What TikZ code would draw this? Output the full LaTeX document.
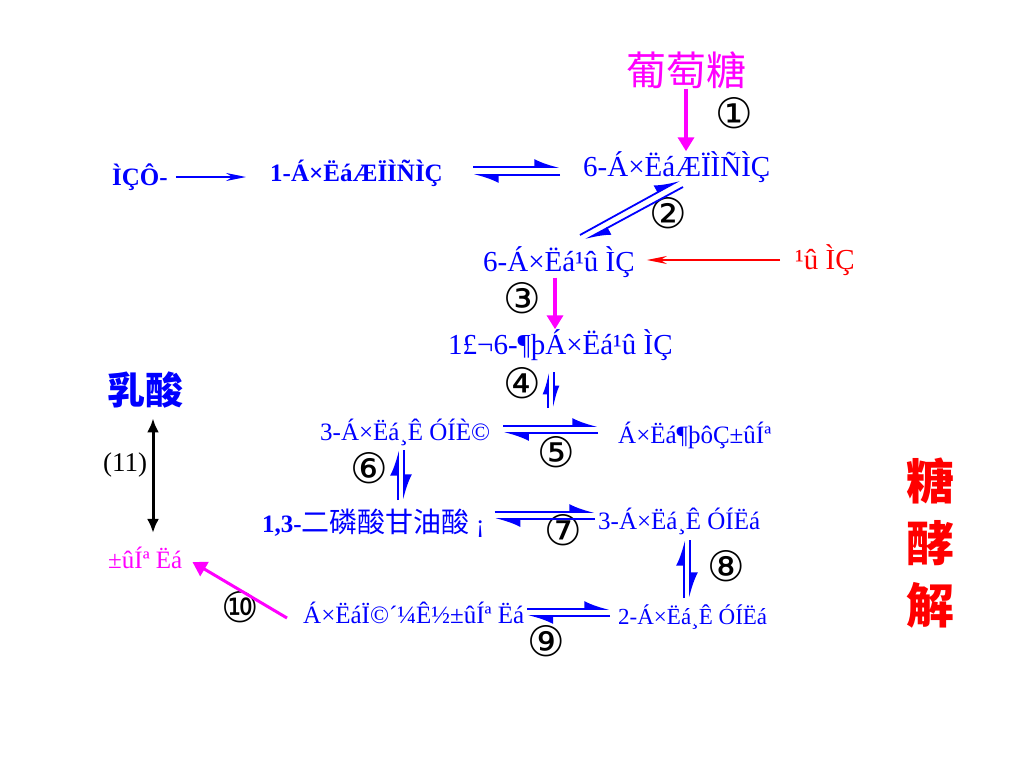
\documentclass[tikz,border=0pt]{standalone}
\usepackage{fontspec}
\setmainfont{Liberation Serif}
\newfontfamily\cjk{Noto Sans CJK SC}
\newfontfamily\circfont{DejaVu Sans}
\usetikzlibrary{arrows.meta}
\definecolor{pblue}{RGB}{0,0,255}
\definecolor{pmag}{RGB}{255,0,255}
\definecolor{pred}{RGB}{255,0,0}
\tikzset{%
  >={Latex[width=2mm,length=2mm]},
  % Specifications for style of nodes:
            base/.style = {inner sep=0pt, anchor=west,
                           font=\fontsize{25}{30}\selectfont},
  comp/.style = {base, text=pblue},
  compl/.style = {comp, font=\fontsize{29}{32}\selectfont},
  compb/.style = {comp, font=\fontsize{25}{30}\selectfont\bfseries},
  sugar/.style = {base, anchor=center, font=\cjk\fontsize{40}{44}\selectfont},
  num/.style = {inner sep=0pt, font=\circfont\fontsize{42}{44}\selectfont},
  % Specifications for style of arrows:
  eqr/.style = {draw=pblue, line width=1.8pt,
                -{Latex[harpoon,width=16pt,length=22pt]}},
  eqs/.style = {eqr, -{Latex[harpoon,width=11pt,length=18pt]}},
  thin/.style = {line width=1.4pt, -{Stealth[width=8pt,length=20pt]}},
  fat/.style = {draw=pmag, line width=4pt, -{Triangle[width=16pt,length=14pt]}},
}

\begin{document}
\begin{tikzpicture}[x=1pt, y=-1pt]
  \useasboundingbox (0,0) rectangle (1024,768);

  % Specification of nodes (position, etc.)
  \node (onGlycogen) [compb] at (112,177) {ÌÇÔ-};
  \node (onG1p)      [compb] at (270,173) {1-Á×ËáÆÏÌÑÌÇ};
  \node (onG6p)      [compl] at (583,167) {6-Á×ËáÆÏÌÑÌÇ};
  \node (onGlucose)  [sugar, text=pmag] at (686,70) {葡萄糖};
  \node (onF6p)      [compl] at (483,262) {6-Á×Ëá¹û ÌÇ};
  \node (onFructose) [base, text=pred, font=\fontsize{29}{32}\selectfont] at (795,260) {¹û ÌÇ};
  \node (onFbp)      [compl] at (448,345) {1£¬6-¶þÁ×Ëá¹û ÌÇ};
  \node (onGap)      [comp]  at (320,432) {3-Á×Ëá¸Ê ÓÍÈ©};
  \node (onDhap)     [comp]  at (618,435) {Á×Ëá¶þôÇ±ûÍª};
  \node (onBpg)      [compb] at (262,523) {1,3-{\cjk\mdseries\fontsize{28}{30}\selectfont 二磷酸甘油酸} {\mdseries ¡}};
  \node (onPg3)      [comp]  at (598,521) {3-Á×Ëá¸Ê ÓÍËá};
  \node (onPg2)      [comp, font=\fontsize{23}{28}\selectfont] at (618,617) {2-Á×Ëá¸Ê ÓÍËá};
  \node (onPep)      [comp]  at (303,613) {Á×ËáÏ©´¼Ê½±ûÍª Ëá};
  \node (onPyruvate) [base, text=pmag] at (108,558) {±ûÍª Ëá};
  \node (onLactate)  [sugar, text=pblue, font=\cjk\bfseries\fontsize{38}{40}\selectfont] at (145,390) {乳酸};
  \node (onGlycolysis) [sugar, text=pred, align=center,
        font=\cjk\bfseries\fontsize{48}{62}\selectfont] at (930,543) {糖\\酵\\解};

  % step numbers
  \node (n1)  [num] at (734,113) {①};
  \node (n2)  [num] at (668,213) {②};
  \node (n3)  [num] at (522,298) {③};
  \node (n4)  [num] at (522,383) {④};
  \node (n5)  [num] at (556,452) {⑤};
  \node (n6)  [num] at (369,468) {⑥};
  \node (n7)  [num] at (563,530) {⑦};
  \node (n8)  [num] at (726,566) {⑧};
  \node (n9)  [num] at (546,641) {⑨};
  \node (n10) [num] at (240,607) {⑩};
  \node (n11) [inner sep=0pt, font=\fontsize{27}{30}\selectfont] at (125,465) {(11)};

  % free ends of the reversible steps
  \coordinate (r2a) at (580,235);  \coordinate (r2b) at (680,180);
  \coordinate (r2c) at (683,187);  \coordinate (r2d) at (585,240);
  \coordinate (r4a) at (548,408);  \coordinate (r4b) at (548,372);
  \coordinate (r4c) at (554,372);  \coordinate (r4d) at (554,408);
  \coordinate (r6a) at (398,500);  \coordinate (r6b) at (398,450);
  \coordinate (r6c) at (404,450);  \coordinate (r6d) at (404,500);
  \coordinate (r8a) at (684,598);  \coordinate (r8b) at (684,540);
  \coordinate (r8c) at (690,540);  \coordinate (r8d) at (690,598);

  % Specification of lines between nodes specified above
  \draw[thin, pblue, shorten <=8pt, shorten >=24pt] (onGlycogen.east) -- (onGlycogen.east -| onG1p.west);
  \draw[eqr, shorten <=30pt, shorten >=23pt] ([yshift=6pt]onG1p.east) -- ([yshift=6pt]onG1p.east -| onG6p.west);
  \draw[eqr, shorten <=23pt, shorten >=30pt] ([yshift=-2pt]onG1p.east -| onG6p.west) -- ([yshift=-2pt]onG1p.east);
  \draw[fat] (onGlucose.south) -- (onGlucose.south |- onG6p.north);
  \draw[eqr] (r2a) -- (r2b);
  \draw[eqr] (r2c) -- (r2d);
  \draw[thin, pred, shorten <=15pt, shorten >=12pt] (onFructose.west) -- (onFructose.west -| onF6p.east);
  \draw[fat] (onF6p.south -| 555,0) -- (onFbp.north -| 555,0);
  \draw[eqs] (r4a) -- (r4b);
  \draw[eqs] (r4c) -- (r4d);
  \draw[eqr, shorten <=13pt, shorten >=20pt] ([yshift=6pt]onGap.east) -- ([yshift=6pt]onGap.east -| onDhap.west);
  \draw[eqr, shorten <=20pt, shorten >=13pt] ([yshift=-1pt]onGap.east -| onDhap.west) -- ([yshift=-1pt]onGap.east);
  \draw[eqr] (r6a) -- (r6b);
  \draw[eqr] (r6c) -- (r6d);
  \draw[eqr, shorten <=10pt, shorten >=3pt] ([yshift=11pt]onBpg.east) -- ([yshift=11pt]onBpg.east -| onPg3.west);
  \draw[eqr, shorten <=3pt, shorten >=10pt] ([yshift=4pt]onBpg.east -| onPg3.west) -- ([yshift=4pt]onBpg.east);
  \draw[eqr] (r8a) -- (r8b);
  \draw[eqr] (r8c) -- (r8d);
  \draw[eqr, shorten <=3pt, shorten >=8pt] ([yshift=4pt]onPep.east) -- ([yshift=4pt]onPep.east -| onPg2.west);
  \draw[eqr, shorten <=8pt, shorten >=3pt] ([yshift=-3pt]onPep.east -| onPg2.west) -- ([yshift=-3pt]onPep.east);
  \draw[fat, line width=3pt] ([xshift=-16pt,yshift=-5pt]onPep.west) -- ([xshift=10pt,yshift=-4pt]onPyruvate.east);
  \draw[line width=3pt, {Latex[width=12pt,length=14pt]}-{Latex[width=12pt,length=14pt]},
        shorten <=10pt, shorten >=14pt] (onLactate.south -| 153,0) -- (onPyruvate.north -| 153,0);
\end{tikzpicture}
\end{document}
